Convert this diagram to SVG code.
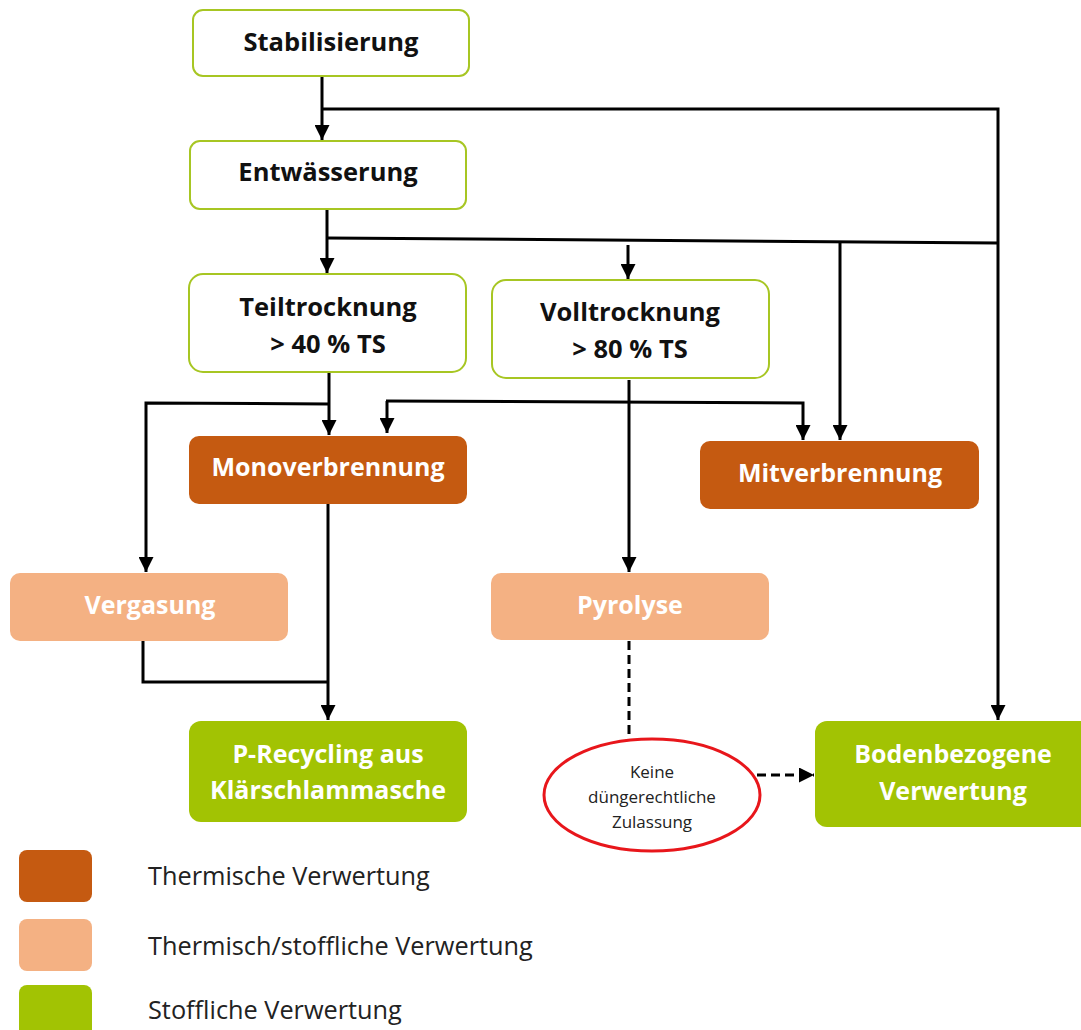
<svg xmlns="http://www.w3.org/2000/svg" width="1081" height="1030" viewBox="0 0 1081 1030">
<style>
.box{fill:#fff;stroke:#a7c623;stroke-width:2}
.dark{fill:#c55a11}
.peach{fill:#f4b183}
.green{fill:#a2c303}
.tb{font-family:"Open Sans","Noto Sans",sans-serif;font-weight:bold;font-size:25.5px;text-anchor:middle;fill:#111}
.tw{font-family:"Open Sans","Noto Sans",sans-serif;font-weight:bold;font-size:25px;text-anchor:middle;fill:#fff}
.tl{font-family:"Open Sans","Noto Sans",sans-serif;font-size:25.3px;fill:#222}
.ts{font-family:"Open Sans","Noto Sans",sans-serif;font-size:17px;text-anchor:middle;fill:#222}
.c{fill:none;stroke:#000;stroke-width:3}
.d{fill:none;stroke:#000;stroke-width:3;stroke-dasharray:9 5}
</style>
<defs>
<marker id="ah" viewBox="0 0 10 10" refX="10" refY="5" markerWidth="5" markerHeight="5" markerUnits="strokeWidth" orient="auto">
<path d="M0,0 L10,5 L0,10 z" fill="#000"/>
</marker>
</defs>
<g id="connectors">
<path class="c" d="M322,77 V140" marker-end="url(#ah)"/>
<path class="c" d="M322,109 H998 V720" marker-end="url(#ah)"/>
<path class="c" d="M327,210 V273" marker-end="url(#ah)"/>
<path class="c" d="M327,238 L998,243"/>
<path class="c" d="M628,245 V279" marker-end="url(#ah)"/>
<path class="c" d="M840,243 V440" marker-end="url(#ah)"/>
<path class="c" d="M329,373 V435" marker-end="url(#ah)"/>
<path class="c" d="M329,404 L146,403 V572" marker-end="url(#ah)"/>
<path class="c" d="M629,380 V572" marker-end="url(#ah)"/>
<path class="c" d="M387,401 V433" marker-end="url(#ah)"/>
<path class="c" d="M386,401 L803,403 V440" marker-end="url(#ah)"/>
<path class="c" d="M328,504 V720" marker-end="url(#ah)"/>
<path class="c" d="M143,640 V682 H328"/>
<path class="d" d="M629,641 V739"/>
<path class="d" d="M757,775 H814" marker-end="url(#ah)"/>
</g>
<g id="n-stabilisierung"><rect class="box" x="193" y="10" width="276" height="66" rx="10"/><text class="tb" x="331" y="51">Stabilisierung</text></g>
<g id="n-entwaesserung"><rect class="box" x="190" y="141" width="276" height="68" rx="10"/><text class="tb" x="328" y="181">Entwässerung</text></g>
<g id="n-teiltrocknung"><rect class="box" x="189" y="274" width="277" height="98" rx="14"/><text class="tb" x="328" y="316">Teiltrocknung</text><text class="tb" x="328" y="353">&gt; 40 % TS</text></g>
<g id="n-volltrocknung"><rect class="box" x="492" y="280" width="277" height="98" rx="14"/><text class="tb" x="630" y="321">Volltrocknung</text><text class="tb" x="630" y="358">&gt; 80 % TS</text></g>
<g id="n-monoverbrennung"><rect class="dark" x="189" y="436" width="278" height="68" rx="10"/><text class="tw" x="328" y="476">Monoverbrennung</text></g>
<g id="n-mitverbrennung"><rect class="dark" x="700" y="441" width="279" height="68" rx="10"/><text class="tw" x="840" y="482">Mitverbrennung</text></g>
<g id="n-vergasung"><rect class="peach" x="10" y="573" width="278" height="68" rx="10"/><text class="tw" x="150" y="614">Vergasung</text></g>
<g id="n-pyrolyse"><rect class="peach" x="491" y="573" width="278" height="67" rx="10"/><text class="tw" x="630" y="614">Pyrolyse</text></g>
<g id="n-precycling"><rect class="green" x="189" y="721" width="278" height="101" rx="12"/><text class="tw" x="328" y="763">P-Recycling aus</text><text class="tw" x="328" y="799">Klärschlammasche</text></g>
<g id="n-bodenbezogene"><rect class="green" x="815" y="721" width="280" height="106" rx="12"/><text class="tw" x="953" y="763">Bodenbezogene</text><text class="tw" x="953" y="800">Verwertung</text></g>
<g id="n-keine"><ellipse cx="652" cy="795" rx="108" ry="56" fill="#fff" stroke="#e8161b" stroke-width="3"/><text class="ts" x="652" y="778">Keine</text><text class="ts" x="652" y="803">düngerechtliche</text><text class="ts" x="652" y="828">Zulassung</text></g>
<g id="legend">
<rect class="dark" x="19" y="850" width="73" height="52" rx="8"/>
<rect class="peach" x="19" y="919" width="73" height="52" rx="8"/>
<rect class="green" x="19" y="985" width="73" height="52" rx="8"/>
<text class="tl" x="148" y="885">Thermische Verwertung</text>
<text class="tl" x="148" y="955">Thermisch/stoffliche Verwertung</text>
<text class="tl" x="148" y="1019">Stoffliche Verwertung</text>
</g>
</svg>
